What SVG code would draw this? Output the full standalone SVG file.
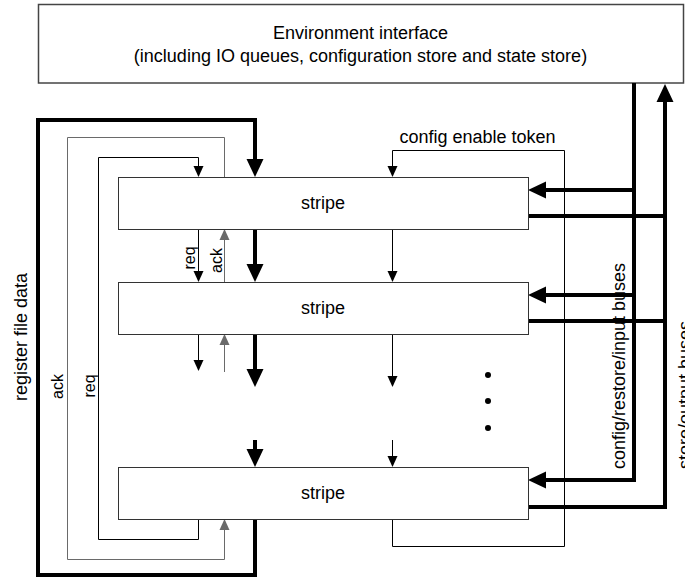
<svg xmlns="http://www.w3.org/2000/svg" width="685" height="577" viewBox="0 0 685 577">
<style>
text{font-family:"Liberation Sans",Arial,sans-serif;fill:#000}
.lbl{font-size:18px}
.sm{font-size:16px}
.box{fill:#fff;stroke:#333;stroke-width:1}
.thick{fill:none;stroke:#000;stroke-width:4;stroke-linejoin:miter}
.thin{fill:none;stroke:#000;stroke-width:1}
.gray{fill:none;stroke:#6a6a6a;stroke-width:1}
</style>
<defs>
<marker id="ah" markerUnits="userSpaceOnUse" markerWidth="18" markerHeight="17" refX="0" refY="8.5" orient="auto" overflow="visible"><path d="M0,0 L18,8.5 L0,17 Z" fill="#000"/></marker>
<marker id="as" markerUnits="userSpaceOnUse" markerWidth="11" markerHeight="10" refX="0" refY="5" orient="auto" overflow="visible"><path d="M0,0 L11,5 L0,10 Z" fill="#000"/></marker>
<marker id="ag" markerUnits="userSpaceOnUse" markerWidth="11" markerHeight="10" refX="0" refY="5" orient="auto" overflow="visible"><path d="M0,0 L11,5 L0,10 Z" fill="#6a6a6a"/></marker>
</defs>

<g id="env">
<rect x="38.5" y="4.5" width="645" height="78.5" fill="#fff" stroke="#444" stroke-width="1.5"/>
<text class="lbl" x="360.5" y="39" text-anchor="middle">Environment interface</text>
<text class="lbl" x="360.5" y="62" text-anchor="middle">(including IO queues, configuration store and state store)</text>
</g>

<g id="connectors">
<!-- register file data -->
<path class="thick" d="M255,519 V575 H38 V120 H255 V159" marker-end="url(#ah)"/>
<path class="thick" d="M255,229 V264" marker-end="url(#ah)"/>
<path class="thick" d="M255,334 V369" marker-end="url(#ah)"/>
<path class="thick" d="M255,440 V449" marker-end="url(#ah)"/>
<!-- req -->
<path class="thin" d="M198.5,519 V539.5 H98.5 V157.5 H198.5 V166" marker-end="url(#as)"/>
<path class="thin" d="M198.5,229 V271" marker-end="url(#as)"/>
<path class="thin" d="M198.5,334 V360" marker-end="url(#as)"/>
<!-- ack -->
<path class="gray" d="M224.5,177 V137.5 H67.5 V559.5 H224.5 V530" marker-end="url(#ag)"/>
<path class="gray" d="M224.5,282 V240" marker-end="url(#ag)"/>
<path class="gray" d="M224.5,372 V345" marker-end="url(#ag)"/>
<!-- config enable token -->
<path class="thin" d="M392.5,519 V546.5 H564.5 V150.5 H392.5 V166" marker-end="url(#as)"/>
<path class="thin" d="M392.5,229 V271" marker-end="url(#as)"/>
<path class="thin" d="M392.5,334 V376" marker-end="url(#as)"/>
<path class="thin" d="M392.5,440 V456" marker-end="url(#as)"/>
<!-- config/restore/input buses -->
<path class="thick" d="M634,83 V480 H546" marker-end="url(#ah)"/>
<path class="thick" d="M634,190 H546" marker-end="url(#ah)"/>
<path class="thick" d="M634,295 H546" marker-end="url(#ah)"/>
<!-- store/output buses -->
<path class="thick" d="M528,507 H665 V102" marker-end="url(#ah)"/>
<path class="thick" d="M528,216 H665"/>
<path class="thick" d="M528,321 H665"/>
</g>

<g id="stripe1">
<rect class="box" x="118.5" y="177.5" width="410" height="52"/>
<text class="lbl" x="323" y="209" text-anchor="middle">stripe</text>
</g>
<g id="stripe2">
<rect class="box" x="118.5" y="282.5" width="410" height="52"/>
<text class="lbl" x="323" y="314" text-anchor="middle">stripe</text>
</g>
<g id="stripe3">
<rect class="box" x="118.5" y="467.5" width="410" height="52"/>
<text class="lbl" x="323" y="499" text-anchor="middle">stripe</text>
</g>

<g id="dots">
<circle cx="488" cy="375" r="3"/>
<circle cx="488" cy="401" r="3"/>
<circle cx="488" cy="428" r="3"/>
</g>

<g id="labels">
<text class="lbl" x="477.5" y="143" text-anchor="middle">config enable token</text>
<text class="lbl" transform="translate(27,337) rotate(-90)" text-anchor="middle">register file data</text>
<text class="sm" transform="translate(63,386.5) rotate(-90)" text-anchor="middle">ack</text>
<text class="sm" transform="translate(94.5,386) rotate(-90)" text-anchor="middle">req</text>
<text class="sm" transform="translate(194.5,258) rotate(-90)" text-anchor="middle">req</text>
<text class="sm" transform="translate(222,260.5) rotate(-90)" text-anchor="middle">ack</text>
<text class="lbl" transform="translate(625,366) rotate(-90)" text-anchor="middle">config/restore/input buses</text>
<text class="lbl" transform="translate(691,395) rotate(-90)" text-anchor="middle">store/output buses</text>
</g>
</svg>
